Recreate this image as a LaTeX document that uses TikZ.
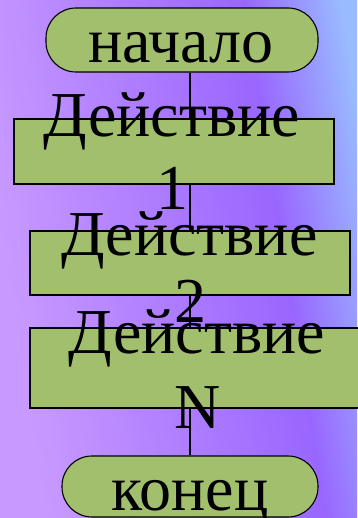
\documentclass[tikz,border=0pt]{standalone}
\usepackage{fontspec}
\setmainfont{Liberation Serif}
\usetikzlibrary{positioning}
\definecolor{bgviolet}{HTML}{C89AFF}
\definecolor{bgpurple}{HTML}{9966FF}
\definecolor{bgblue}{HTML}{99BBFF}
\definecolor{boxgreen}{HTML}{A2BF6E}
\pgfdeclarehorizontalshading{bgshade}{100bp}{color(0bp)=(bgviolet); color(41bp)=(bgviolet); color(55.5bp)=(bgpurple); color(60.5bp)=(bgblue); color(100bp)=(bgblue)}
\tikzset{
  blk/.style={draw=black, line width=1.1pt, fill=boxgreen, rectangle, inner sep=0pt},
  term/.style={blk, rounded corners=30pt},
  lbl/.style={anchor=base, inner sep=0pt, font=\fontsize{64}{73}\selectfont},
  link/.style={draw=black, line width=1.1pt}
}
\begin{document}
\begin{tikzpicture}[x=1pt,y=-1pt]
\useasboundingbox (0,0) rectangle (357,518);
\begin{scope}
\clip (0,0) rectangle (357,518);
\shade[shading=bgshade, transform canvas={rotate around={9:(178,259)}}] (-300,-300) rectangle (656,818);
\end{scope}
% shapes
\node[term, minimum width=272pt, minimum height=64pt] (start) at (182,40) {};
\node[blk, minimum width=320pt, minimum height=65pt] (b1) at (174,151.5) {};
\node[blk, minimum width=320pt, minimum height=64pt] (b2) at (190,263) {};
\node[blk, minimum width=334pt, minimum height=80pt] (b3) at (197,368) {};
\node[term, minimum width=256pt, minimum height=61pt] (end) at (190,486.5) {};
% connectors
\draw[link] (start.south -| b2.center) -- (b1.north -| b2.center);
\draw[link] (b1.south -| b2.center) -- (b2.north);
\draw[link] (b2.south) -- (b3.north -| b2.center);
\draw[link] (b3.south -| b2.center) -- (end.north);
% texts
\node[lbl] (t0) at (181,63) {начало};
\node[lbl] (t1a) at (172,137) {Действие};
\node[lbl] (t1b) at (172,210) {1};
\node[lbl] (t2a) at (189.5,255) {Действие};
\node[lbl] (t2b) at (190,322) {2};
\node[lbl] (t3a) at (197,353) {Действие};
\node[lbl] (t3b) at (198,428) {N};
\node[lbl] (t4) at (190,510) {конец};
\end{tikzpicture}
\end{document}
